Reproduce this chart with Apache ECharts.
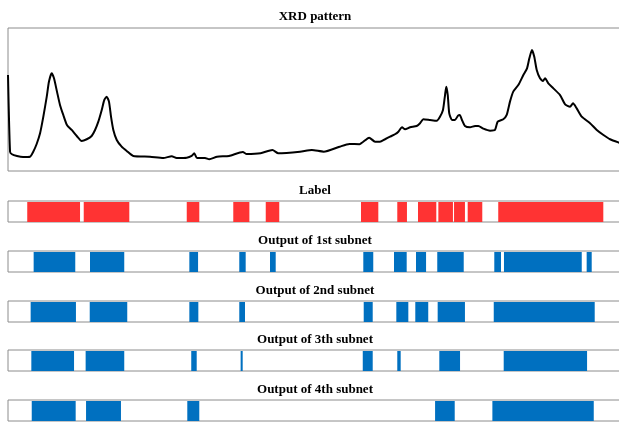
<!DOCTYPE html>
<html>
<head>
<meta charset="utf-8">
<script src="https://cdn.jsdelivr.net/npm/echarts@6/dist/echarts.min.js"></script>
<style>
  html, body { margin: 0; padding: 0; background: #fff; }
  #chart { width: 619px; height: 423px; }
</style>
</head>
<body>
<div id="chart"></div>
<script>
// 2θ range shared by every panel (degrees)
const twoThetaMin = 5;
const twoThetaMax = 50;

// XRD pattern: 2θ (deg) and intensity (a.u., 0–100)
const xrdTwoTheta = [
  5.00, 5.15, 5.29, 5.66, 6.10, 6.61, 6.85, 7.10, 7.35, 7.59,
  7.84, 8.00, 8.20, 8.37, 8.59, 8.81, 9.05, 9.32, 9.67, 10.04,
  10.40, 10.77, 11.13, 11.38, 11.62, 11.87, 12.06, 12.23, 12.40, 12.55,
  12.72, 12.97, 13.33, 13.70, 14.18, 15.41, 16.38, 17.00, 17.36, 18.10,
  18.46, 18.65, 18.85, 19.44, 19.75, 20.32, 21.20, 22.21, 22.49, 23.51,
  24.38, 24.81, 26.40, 27.27, 28.14, 29.30, 30.02, 30.75, 31.47, 31.90,
  32.26, 32.63, 33.00, 33.36, 33.61, 33.88, 34.10, 34.47, 34.95, 35.20,
  35.44, 35.93, 36.42, 36.66, 36.88, 37.03, 37.12, 37.23, 37.34, 37.54,
  37.76, 37.98, 38.11, 38.27, 38.49, 38.86, 39.23, 39.47, 39.84, 40.33,
  40.69, 40.89, 41.30, 41.55, 41.79, 42.03, 42.40, 42.77, 43.04, 43.21,
  43.40, 43.57, 43.75, 43.99, 44.21, 44.36, 44.60, 44.97, 45.46, 45.83,
  46.19, 46.41, 46.68, 47.05, 47.66, 48.15, 48.64, 49.13, 49.79, 50.00
];
const xrdIntensity = [
  67.1, 13.5, 11.7, 10.5, 9.8, 10.0, 13.5, 18.9, 26.4, 38.0,
  52.0, 62.4, 68.3, 64.8, 55.5, 46.2, 39.2, 32.2, 28.7, 24.5,
  21.0, 22.2, 24.5, 28.7, 34.5, 42.7, 49.7, 52.0, 48.5, 38.0,
  28.7, 21.7, 17.0, 14.0, 10.5, 10.0, 9.1, 10.3, 9.1, 9.3,
  10.5, 12.4, 9.1, 9.1, 8.2, 10.0, 10.5, 13.3, 11.9, 12.4,
  14.7, 12.4, 13.5, 14.7, 13.5, 17.0, 18.9, 18.7, 23.3, 20.5,
  20.5, 22.2, 24.0, 25.7, 27.5, 30.6, 29.2, 30.6, 31.5, 33.4,
  36.2, 35.7, 35.2, 38.0, 42.7, 53.1, 59.0, 53.1, 40.3, 35.7,
  35.7, 38.7, 39.2, 35.7, 31.5, 30.6, 31.5, 31.5, 29.6, 28.2,
  28.7, 34.5, 36.2, 39.2, 48.5, 55.5, 60.1, 67.1, 71.8, 78.8,
  84.6, 79.9, 70.6, 64.8, 62.9, 64.8, 61.3, 57.8, 53.1, 46.6,
  45.0, 47.3, 43.8, 38.0, 33.4, 28.7, 25.2, 22.2, 19.8, 19.2
];

// Phase regions as [start 2θ, end 2θ]
const labelRegions = [
  [6.41, 10.28], [10.55, 13.89], [18.10, 19.02], [21.51, 22.69], [23.89, 24.88],
  [30.87, 32.14], [33.53, 34.24], [35.05, 36.39], [36.54, 37.61], [37.69, 38.49],
  [38.69, 39.76], [40.93, 48.63]
];
const subnet1Regions = [
  [6.88, 9.93], [11.01, 13.52], [18.29, 18.93], [21.95, 22.42], [24.20, 24.62],
  [31.04, 31.77], [33.29, 34.22], [34.90, 35.64], [36.46, 38.40], [40.64, 41.13],
  [41.35, 47.05], [47.41, 47.78]
];
const subnet2Regions = [
  [6.66, 9.98], [10.99, 13.74], [18.29, 18.95], [21.95, 22.37],
  [31.07, 31.73], [33.46, 34.34], [34.85, 35.80], [36.49, 38.49], [40.60, 48.00]
];
const subnet3Regions = [
  [6.71, 9.84], [10.69, 13.52], [18.43, 18.83], [22.05, 22.20],
  [31.00, 31.73], [33.53, 33.78], [36.61, 38.13], [41.33, 47.44]
];
const subnet4Regions = [
  [6.74, 9.96], [10.72, 13.28], [18.14, 19.02], [36.30, 37.74], [40.50, 47.93]
];

const stripTitles = ['Label', 'Output of 1st subnet', 'Output of 2nd subnet',
                     'Output of 3th subnet', 'Output of 4th subnet'];
const stripRegions = [labelRegions, subnet1Regions, subnet2Regions, subnet3Regions, subnet4Regions];
const stripColors = ['#ff3333', '#0070c0', '#0070c0', '#0070c0', '#0070c0'];

// layout: the frames run past the right edge of the page
const plotLeft = 8;
const plotRight = -3;
const stripTops = [201, 251, 301, 350, 400];
const stripHeight = 21;
const frameColor = '#8c8c8c';
const titleFont = { fontFamily: 'Liberation Serif', fontWeight: 'bold', fontSize: 13, color: '#000' };

const gridBase = { left: plotLeft, right: plotRight, show: true, borderColor: frameColor,
                   borderWidth: 1, outerBoundsMode: 'none', containLabel: false };
const grids = [Object.assign({ top: 28, height: 143, backgroundColor: '#fff' }, gridBase)];
stripTops.forEach(t => grids.push(Object.assign({ top: t, height: stripHeight }, gridBase)));

const hiddenAxis = {
  axisLine: { show: false }, axisTick: { show: false },
  axisLabel: { show: false }, splitLine: { show: false }
};
const xAxes = grids.map((g, i) => Object.assign({ type: 'value', gridIndex: i,
  min: twoThetaMin, max: twoThetaMax }, hiddenAxis));
const yAxes = grids.map((g, i) => Object.assign({ type: 'value', gridIndex: i,
  min: 0, max: i === 0 ? 100 : 1 }, hiddenAxis));

const titles = [{ text: 'XRD pattern', left: 315, top: 10 }];
stripTitles.forEach((t, i) => titles.push({ text: t, left: 315, top: stripTops[i] - 17 }));
titles.forEach(t => { t.textAlign = 'center'; t.padding = 0; t.textStyle = titleFont; });

const series = [{
  type: 'line', xAxisIndex: 0, yAxisIndex: 0,
  data: xrdTwoTheta.map((x, i) => [x, xrdIntensity[i]]),
  showSymbol: false, clip: true, animation: false, smooth: 0.2,
  lineStyle: { color: '#000', width: 2 }
}];

stripRegions.forEach((regions, i) => {
  const fill = stripColors[i];
  series.push({
    type: 'custom', xAxisIndex: i + 1, yAxisIndex: i + 1,
    data: regions, animation: false, clip: true,
    encode: { x: [0, 1] },
    renderItem: function (params, api) {
      const a = api.coord([api.value(0), 1]);
      const b = api.coord([api.value(1), 0]);
      return { type: 'rect',
               shape: { x: a[0], y: a[1] + 1, width: b[0] - a[0], height: b[1] - a[1] - 1 },
               style: { fill: fill } };
    }
  });
});

const chart = echarts.init(document.getElementById('chart'), null, { renderer: 'canvas' });
chart.setOption({
  backgroundColor: '#fff',
  animation: false,
  title: titles,
  grid: grids,
  xAxis: xAxes,
  yAxis: yAxes,
  series: series
});
</script>
</body>
</html>
